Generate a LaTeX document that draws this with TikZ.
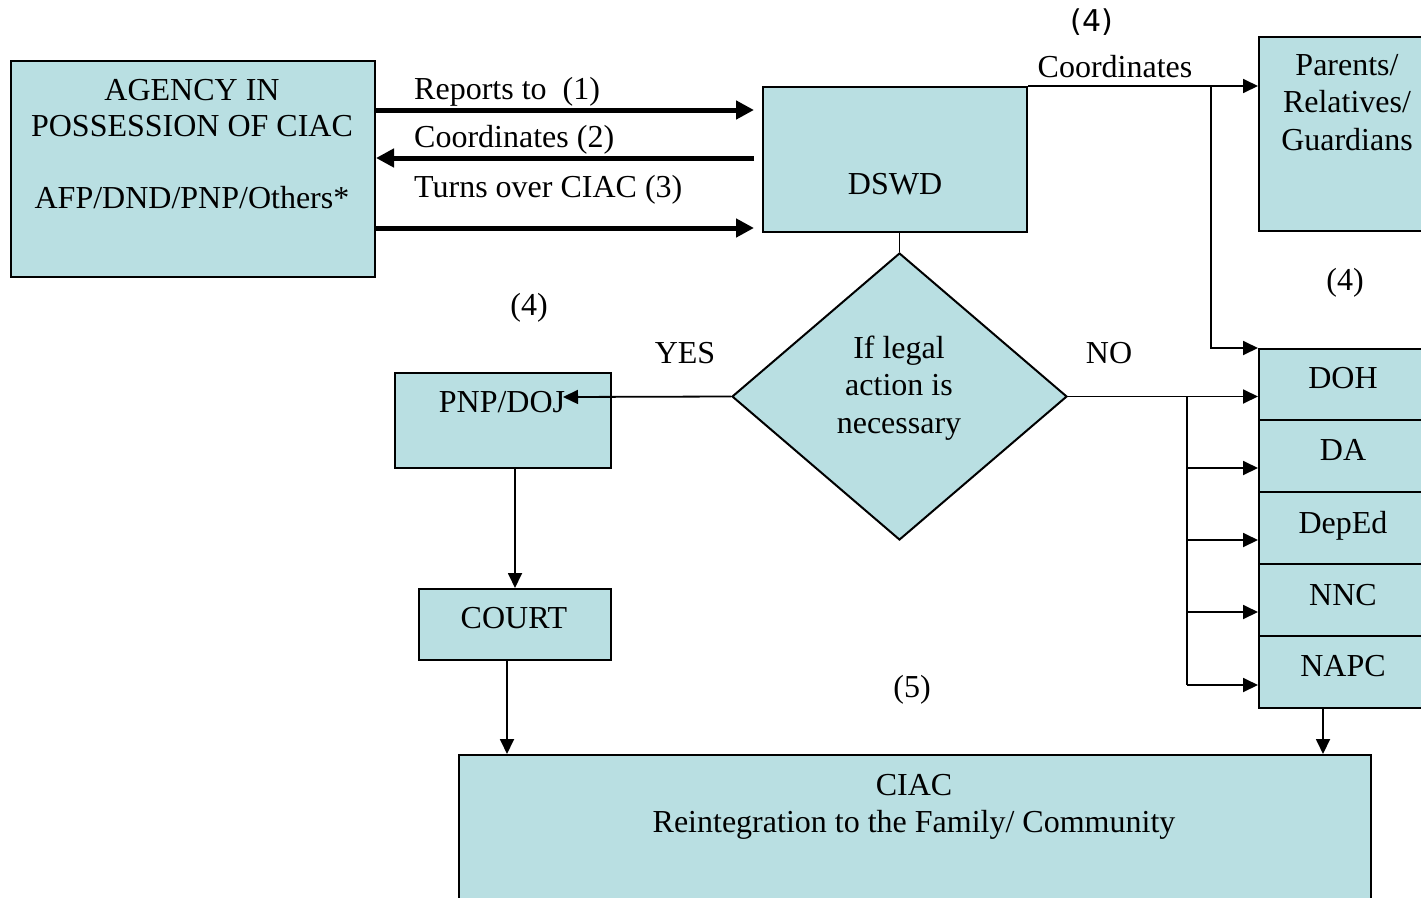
\documentclass[tikz,border=0pt]{standalone}
\usepackage{fontspec}
\setmainfont{Liberation Serif}
\newfontfamily\dejasans{DejaVu Sans}
\usetikzlibrary{shapes.geometric,arrows.meta,fit}
\definecolor{boxfill}{HTML}{B9DFE2}
\begin{document}
\begin{tikzpicture}[x=1pt,y=-1pt,
  box/.style={draw=black, line width=2pt, fill=boxfill, inner sep=0pt},
  txt/.style={inner sep=0pt, anchor=base, font=\fontsize{32}{38}\selectfont},
  conn/.style={line width=1.8pt},
  carrow/.style={conn, -{Triangle[length=15pt,width=14pt]}},
  bigarrow/.style={line width=5pt, -{Triangle[length=18pt,width=18pt]}},
]
\useasboundingbox (0,0) rectangle (1421,897);

% boxes
\node[box, fit={(11,61)(375,277)}] (agency) {};
\node[box, fit={(763,87)(1027,232)}] (dswd) {};
\node[box, fit={(1259,37)(1432,231)}] (parents) {};
\node[box, fit={(1259,349)(1432,420)}] (doh) {};
\node[box, fit={(1259,420)(1432,492)}] (da) {};
\node[box, fit={(1259,492)(1432,564)}] (deped) {};
\node[box, fit={(1259,564)(1432,636)}] (nnc) {};
\node[box, fit={(1259,636)(1432,708)}] (napc) {};
\node[box, fit={(395,373)(611,468)}] (pnp) {};
\node[box, fit={(419,589)(611,660)}] (court) {};
\node[box, fit={(459,755)(1371,910)}] (ciac) {};
\node[box, diamond, minimum width=335pt, minimum height=287pt] (dec) at (899.5,396.5) {};

% texts
\node[txt] (tag1) at (192,100) {AGENCY IN};
\node[txt] (tag2) at (192,136) {POSSESSION OF CIAC};
\node[txt] (tag3) at (192,208) {AFP/DND/PNP/Others*};
\node[txt, anchor=base west] (l1) at (414,99) {Reports to\ \ (1)};
\node[txt, anchor=base west] (l2) at (414,147) {Coordinates (2)};
\node[txt, anchor=base west] (l3) at (414,197) {Turns over CIAC (3)};
\node[txt] (tds) at (895,194) {DSWD};
\node[inner sep=0pt, anchor=base, font=\dejasans\fontsize{30}{36}\selectfont] (n4a) at (1092,31) {(4)};
\node[txt] (tcoord) at (1115,77) {Coordinates};
\node[txt] (tpar1) at (1347,75) {Parents/};
\node[txt] (tpar2) at (1347,112) {Relatives/};
\node[txt] (tpar3) at (1347,150) {Guardians};
\node[txt] (n4b) at (1345,290) {(4)};
\node[txt] (n4c) at (529,315) {(4)};
\node[txt] (tyes) at (685,363) {YES};
\node[txt] (tno) at (1109,363) {NO};
\node[txt] (td1) at (899,358) {If legal};
\node[txt] (td2) at (899,395) {action is};
\node[txt] (td3) at (899,433) {necessary};
\node[txt] (tpnp) at (502,412) {PNP/DOJ};
\node[txt] (tcourt) at (514,628) {COURT};
\node[txt] (tdoh) at (1343,388) {DOH};
\node[txt] (tda) at (1343,460) {DA};
\node[txt] (tdeped) at (1343,533) {DepEd};
\node[txt] (tnnc) at (1343,605) {NNC};
\node[txt] (tnapc) at (1343,676) {NAPC};
\node[txt] (n5) at (912,697) {(5)};
\node[txt] (tciac1) at (914,795) {CIAC};
\node[txt] (tciac2) at (914,832) {Reintegration to the Family/ Community};

% helper coordinates
\coordinate (h1) at (0,110);
\coordinate (h2) at (0,158);
\coordinate (h3) at (0,228);
\coordinate (j1) at (1211,86);
\coordinate (pnptip) at (563,397);
\coordinate (bus) at (1187,397);
\coordinate (a2) at (1187,468);
\coordinate (a3) at (1187,540);
\coordinate (a4) at (1187,612);
\coordinate (a5) at (1187,685);
\coordinate (c1) at (515,0);
\coordinate (c2) at (507,0);
\coordinate (c3) at (1323,0);

% connectors
\draw[bigarrow, shorten >=8pt] (agency.east |- h1) -- (dswd.west |- h1);
\draw[bigarrow, shorten <=8pt] (dswd.west |- h2) -- (agency.east |- h2);
\draw[bigarrow, shorten >=8pt] (agency.east |- h3) -- (dswd.west |- h3);

\draw[conn] (dswd.north east) -- (j1);
\draw[carrow] (j1) -- (parents.west |- j1);
\draw[carrow] (j1) |- (doh.north west);

\draw[conn] (dec.north |- dswd.south) -- (dec.north);
\draw[carrow] (dec.west) -- (pnptip);
\draw[carrow] (dec.east) -- (doh.west |- dec.east);
\draw[conn] (bus) -- (a5);
\draw[carrow] (a2) -- (da.west |- a2);
\draw[carrow] (a3) -- (deped.west |- a3);
\draw[carrow] (a4) -- (nnc.west |- a4);
\draw[carrow] (a5) -- (napc.west |- a5);

\draw[carrow] (pnp.south -| c1) -- (court.north -| c1);
\draw[carrow] (court.south -| c2) -- (ciac.north -| c2);
\draw[carrow] (napc.south -| c3) -- (ciac.north -| c3);
\end{tikzpicture}
\end{document}
